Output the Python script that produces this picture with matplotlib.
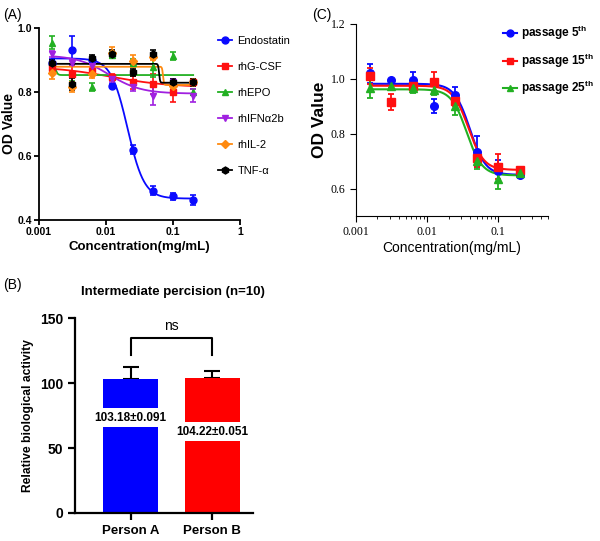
import numpy as np
import matplotlib
matplotlib.use("Agg")
import matplotlib.pyplot as plt

plt.rcParams['font.family'] = ['Liberation Sans', 'DejaVu Sans']
plt.rcParams['mathtext.fontset'] = 'custom'
plt.rcParams['mathtext.rm'] = 'Liberation Sans:bold'
plt.rcParams['mathtext.it'] = 'Liberation Sans:bold'
plt.rcParams['mathtext.bf'] = 'Liberation Sans:bold'

# ---- data: panel A (specificity) ----
conc = [0.0015625, 0.003125, 0.00625, 0.0125, 0.025, 0.05, 0.1, 0.2]
a_names = ['Endostatin', 'rhG-CSF', 'rhEPO', 'rhIFNα2b', 'rhIL-2', 'TNF-α']
a_means = [
    [0.892, 0.93, 0.90, 0.82, 0.62, 0.492, 0.474, 0.462],
    [0.875, 0.856, 0.866, 0.846, 0.83, 0.825, 0.80, 0.832],
    [0.954, 0.825, 0.815, 0.915, 0.892, 0.877, 0.913, 0.80],
    [0.918, 0.89, 0.88, 0.84, 0.815, 0.789, 0.83, 0.789],
    [0.86, 0.815, 0.855, 0.923, 0.897, 0.91, 0.818, 0.83],
    [0.89, 0.825, 0.905, 0.92, 0.861, 0.92, 0.832, 0.83],
]
a_errs = [
    [0.012, 0.045, 0.01, 0.006, 0.015, 0.015, 0.01, 0.015],
    [0.02, 0.025, 0.01, 0.01, 0.02, 0.03, 0.03, 0.01],
    [0.02, 0.01, 0.012, 0.01, 0.012, 0.03, 0.013, 0.01],
    [0.01, 0.01, 0.01, 0.01, 0.012, 0.03, 0.01, 0.02],
    [0.02, 0.015, 0.01, 0.018, 0.02, 0.01, 0.01, 0.01],
    [0.01, 0.02, 0.01, 0.012, 0.012, 0.01, 0.01, 0.01],
]
# 4PL fit parameters: top, bottom, EC50, hill
a_fits = [
    (0.905, 0.467, 0.021, 3.5),
    (0.88, 0.815, 0.012, 1.0),
    (0.88, 0.853, 0.0018, 30.0),
    (0.915, 0.795, 0.011, 1.8),
    (0.879, 0.822, 0.071, 60.0),
    (0.888, 0.829, 0.062, 60.0),
]
a_colors = ['#0a0aff', '#ff1010', '#22b022', '#a020e0', '#ff8a10', '#000000']
a_markers = ['o', 's', '^', 'v', 'D', 'h']

# ---- data: panel C (stability, passages) ----
c_names = ['passage 5$^{th}$', 'passage 15$^{th}$', 'passage 25$^{th}$']
c_means = [
    [1.02, 0.995, 0.995, 0.90, 0.94, 0.735, 0.665, 0.65],
    [1.01, 0.915, 0.975, 0.99, 0.92, 0.71, 0.68, 0.667],
    [0.965, 0.975, 0.965, 0.96, 0.90, 0.70, 0.635, 0.655],
]
c_errs = [
    [0.035, 0.006, 0.03, 0.025, 0.03, 0.055, 0.04, 0.01],
    [0.03, 0.03, 0.02, 0.035, 0.02, 0.03, 0.045, 0.01],
    [0.035, 0.01, 0.015, 0.02, 0.03, 0.03, 0.035, 0.01],
]
c_fits = [
    (0.982, 0.650, 0.040, 4.0),
    (0.975, 0.668, 0.038, 4.0),
    (0.962, 0.648, 0.036, 4.0),
]
c_colors = ['#0a0aff', '#ff1010', '#22b022']
c_markers = ['o', 's', '^']

# ---- data: panel B (intermediate precision) ----
persons = ['Person A', 'Person B']
activity = [103.18, 104.22]
activity_err = [9.0, 5.3]
activity_text = ['103.18±0.091', '104.22±0.051']
b_colors = ['#0000ff', '#ff0000']


def four_pl(x, top, bottom, ec50, hill):
    return bottom + (top - bottom) / (1 + (x / ec50) ** hill)


fig = plt.figure(figsize=(6.0, 5.41), dpi=100)
xfit = np.logspace(np.log10(conc[0]), np.log10(conc[-1]), 400)

# ---------- Panel A ----------
axA = fig.add_axes([39 / 600, 1 - 220 / 541, 201 / 600, 192 / 541])
for name, m, e, f, col, mk in zip(a_names, a_means, a_errs, a_fits, a_colors, a_markers):
    axA.plot(xfit, four_pl(xfit, *f), color=col, lw=1.3)
    axA.errorbar(conc, m, yerr=e, fmt=mk, color=col, ms=5 if mk != 'D' else 4,
                 capsize=2.5, elinewidth=1.2, capthick=1.2)
    axA.plot([], [], color=col, marker=mk, ms=5 if mk != 'D' else 4, lw=1.3, label=name)
axA.set_xscale('log')
axA.set_xlim(0.001, 1)
axA.set_ylim(0.4, 1.0)
axA.set_yticks([0.4, 0.6, 0.8, 1.0])
axA.set_yticklabels(['0.4', '0.6', '0.8', '1.0'])
axA.set_xticks([0.001, 0.01, 0.1, 1])
axA.set_xticklabels(['0.001', '0.01', '0.1', '1'])
axA.minorticks_off()
for s in ['top', 'right']:
    axA.spines[s].set_visible(False)
for s in ['left', 'bottom']:
    axA.spines[s].set_linewidth(1.3)
axA.tick_params(width=1.3, length=3.5, labelsize=7.5, pad=1.5)
for lab in axA.get_xticklabels() + axA.get_yticklabels():
    lab.set_fontweight('bold')
axA.set_xlabel('Concentration(mg/mL)', fontsize=9.5, fontweight='bold', labelpad=3)
axA.set_ylabel('OD Value', fontsize=10, fontweight='bold', labelpad=1)
axA.legend(loc='upper left', bbox_to_anchor=(212 / 600, 1 - 30 / 541),
           bbox_transform=fig.transFigure, frameon=False, fontsize=8,
           handlelength=1.3, handletextpad=0.5, labelspacing=1.45, borderpad=0)
fig.text(0.005, 0.985, '(A)', fontsize=10, va='top')

# ---------- Panel C ----------
axC = fig.add_axes([356 / 600, 1 - 216 / 541, 192 / 600, 192 / 541])
for name, m, e, f, col, mk in zip(c_names, c_means, c_errs, c_fits, c_colors, c_markers):
    axC.plot(xfit, four_pl(xfit, *f), color=col, lw=1.5)
    axC.errorbar(conc, m, yerr=e, fmt=mk, color=col, ms=5.5,
                 capsize=2.5, elinewidth=1.3, capthick=1.3)
    axC.plot([], [], color=col, marker=mk, ms=5, lw=1.5, label=name)
axC.set_xscale('log')
axC.set_xlim(0.001, 0.5)
axC.set_ylim(0.5, 1.2)
axC.set_yticks([0.6, 0.8, 1.0, 1.2])
axC.set_yticklabels(['0.6', '0.8', '1.0', '1.2'], family='Liberation Serif')
axC.set_xticks([0.001, 0.01, 0.1])
axC.set_xticklabels(['0.001', '0.01', '0.1'], family='Liberation Serif')
for s in ['top', 'right']:
    axC.spines[s].set_visible(False)
axC.tick_params(which='major', length=4, labelsize=8.5)
axC.tick_params(which='minor', length=2)
axC.set_xlabel('Concentration(mg/mL)', fontsize=10, labelpad=2)
axC.set_ylabel('OD Value', fontsize=12.5, fontweight='bold', labelpad=3)
axC.legend(loc='upper left', bbox_to_anchor=(497 / 600, 1 - 18 / 541),
           bbox_transform=fig.transFigure, frameon=False,
           prop={'size': 8.5, 'weight': 'bold'},
           handlelength=1.2, handletextpad=0.3, labelspacing=0.8, borderpad=0)
fig.text(0.52, 0.985, '(C)', fontsize=10, va='top')

# ---------- Panel B ----------
axB = fig.add_axes([0.125, 0.0518, 0.297, 0.36])
xpos = np.arange(len(persons))
axB.errorbar(xpos, activity, yerr=[[0] * len(activity), activity_err], fmt='none',
             ecolor='black', capsize=6, elinewidth=1.5, capthick=1.5, zorder=1)
axB.bar(xpos, activity, width=0.68, color=b_colors, zorder=2)
label_y = [73.5, 62.5]
for x, t, yv in zip(xpos, activity_text, label_y):
    axB.text(x, yv, t, ha='center', va='center', fontsize=8.5, fontweight='bold',
             bbox=dict(facecolor='white', edgecolor='none', pad=2.5), zorder=3)
# significance bracket
bracket_y = 134.5
axB.plot([0, 0, 1, 1], [122, bracket_y, bracket_y, 122], color='black', lw=1.5)
axB.text(0.5, bracket_y + 4, 'ns', ha='center', va='bottom', fontsize=10)
axB.set_xlim(-0.68, 1.5)
axB.set_ylim(0, 150)
axB.set_yticks([0, 50, 100, 150])
axB.set_xticks(xpos)
axB.set_xticklabels(persons)
for s in ['top', 'right']:
    axB.spines[s].set_visible(False)
for s in ['left', 'bottom']:
    axB.spines[s].set_linewidth(1.6)
axB.tick_params(width=1.6, length=5, labelsize=10)
for lab in axB.get_xticklabels() + axB.get_yticklabels():
    lab.set_fontweight('bold')
axB.tick_params(axis='x', labelsize=9.5)
axB.set_ylabel('Relative biological activity', fontsize=8.7, fontweight='bold', labelpad=4)
axB.set_title('Intermediate percision (n=10)', fontsize=9.5, fontweight='bold', pad=17, x=0.55)
fig.text(0.005, 1 - 278 / 541, '(B)', fontsize=10, va='top')

fig.savefig('out.png', dpi=100)
